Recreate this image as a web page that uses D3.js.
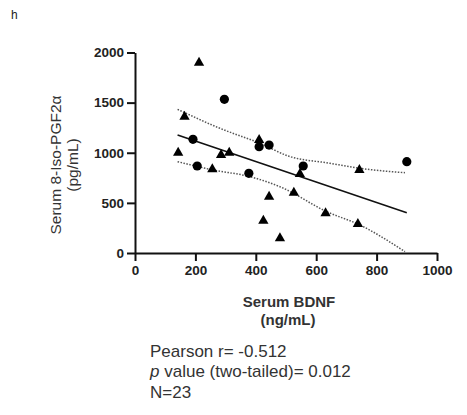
<!DOCTYPE html>
<html>
<head>
<meta charset="utf-8">
<script src="https://cdn.jsdelivr.net/npm/d3@7"></script>
<style>
  body { margin: 0; background: #fff; }
  svg { font-family: "Liberation Sans", Arial, sans-serif; }
</style>
</head>
<body>
<svg id="chart"></svg>
<script>
// circles group
const circleX = [296, 192, 206, 377, 411, 444, 557, 900];
const circleY = [1533, 1134, 868, 795, 1060, 1077, 868, 911];
// triangles group
const triX = [212, 164, 143, 285, 312, 256, 411, 546, 743, 444, 425, 480, 526, 631, 738];
const triY = [1898, 1360, 1000, 977, 1000, 835, 1127, 788, 828, 562, 322, 147, 601, 396, 289];
// regression line and 95% band
const fitX = [141, 900];
const fitY = [1177, 402];
const upperX = [141, 281, 414, 508, 646, 745, 894];
const upperY = [1433, 1244, 1094, 967, 895, 845, 801];
const lowerX = [141, 259, 381, 480, 635, 745, 894];
const lowerY = [911, 828, 761, 661, 412, 279, 13];
const xTicks = [0, 200, 400, 600, 800, 1000];
const yTicks = [0, 500, 1000, 1500, 2000];
const statLines = ["Pearson r= -0.512", "value (two-tailed)= 0.012", "N=23"];

const width = 467, height = 415;
const svg = d3.select("#chart").attr("width", width).attr("height", height);

const x = d3.scaleLinear().domain([0, 1000]).range([135, 437]);
const y = d3.scaleLinear().domain([0, 2000]).range([253, 52.5]);

svg.append("text")
  .attr("x", 11).attr("y", 19)
  .style("font-size", "12px").style("fill", "#222")
  .text("h");

// axes
const xAxis = svg.append("g")
  .attr("transform", `translate(0,${y(0)})`)
  .call(d3.axisBottom(x).tickValues(xTicks).tickFormat(d3.format("d"))
    .tickSize(8).tickSizeOuter(0).tickPadding(4));
const yAxis = svg.append("g")
  .attr("transform", `translate(${x(0)},0)`)
  .call(d3.axisLeft(y).tickValues(yTicks).tickFormat(d3.format("d"))
    .tickSize(8).tickSizeOuter(0).tickPadding(3));

[xAxis, yAxis].forEach((g) => {
  g.select(".domain").attr("stroke", "#111").attr("stroke-width", 2);
  g.selectAll(".tick line").attr("stroke", "#111").attr("stroke-width", 2);
  g.selectAll(".tick text")
    .style("font-size", "13.5px")
    .style("font-weight", "bold")
    .style("font-family", "'Liberation Sans', Arial, sans-serif")
    .attr("fill", "#222");
});

// band and fit
const line = d3.line().x((d) => x(d[0])).y((d) => y(d[1])).curve(d3.curveMonotoneX);
const band = [d3.zip(upperX, upperY), d3.zip(lowerX, lowerY)];
svg.selectAll(".band")
  .data(band)
  .enter()
  .append("path")
  .attr("class", "band")
  .attr("fill", "none")
  .attr("stroke", "#555")
  .attr("stroke-width", 1.5)
  .attr("stroke-dasharray", "1.5,1.5")
  .attr("d", line);

svg.append("path")
  .datum(d3.zip(fitX, fitY))
  .attr("fill", "none")
  .attr("stroke", "#111")
  .attr("stroke-width", 1.6)
  .attr("d", d3.line().x((d) => x(d[0])).y((d) => y(d[1])));

// points
svg.selectAll(".dot")
  .data(d3.zip(circleX, circleY))
  .enter()
  .append("circle")
  .attr("cx", (d) => x(d[0]))
  .attr("cy", (d) => y(d[1]))
  .attr("r", 4.6)
  .attr("fill", "#000");

const tri = d3.symbol().type(d3.symbolTriangle).size(46);
svg.selectAll(".tri")
  .data(d3.zip(triX, triY))
  .enter()
  .append("path")
  .attr("transform", (d) => `translate(${x(d[0])},${y(d[1])})`)
  .attr("d", tri)
  .attr("fill", "#000");

// axis titles
const yTitle = svg.append("text")
  .attr("transform", "translate(61,165) rotate(-90)")
  .attr("text-anchor", "middle")
  .style("font-size", "15.5px")
  .style("fill", "#333");
yTitle.append("tspan").attr("x", 0).attr("y", 0).text("Serum 8-Iso-PGF2α");
yTitle.append("tspan").attr("x", 0).attr("y", 17).text("(pg/mL)");

const xTitle = svg.append("text")
  .attr("text-anchor", "middle")
  .style("font-size", "15px")
  .style("font-weight", "bold")
  .style("fill", "#333");
xTitle.append("tspan").attr("x", 289).attr("y", 307).text("Serum BDNF");
xTitle.append("tspan").attr("x", 288).attr("y", 325).text("(ng/mL)");

// stats
const stats = svg.append("text")
  .style("font-size", "17px")
  .style("fill", "#333");
stats.append("tspan").attr("x", 150).attr("y", 357).text(statLines[0]);
const pl = stats.append("tspan").attr("x", 150).attr("y", 377);
pl.append("tspan").style("font-style", "italic").text("p");
pl.append("tspan").text(" " + statLines[1]);
stats.append("tspan").attr("x", 150).attr("y", 398).text(statLines[2]);
</script>
</body>
</html>
